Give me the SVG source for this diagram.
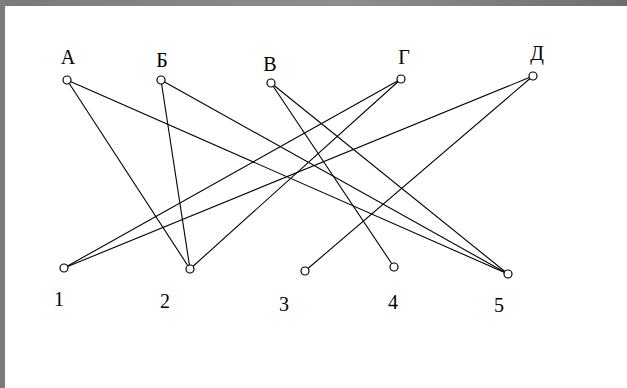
<svg xmlns="http://www.w3.org/2000/svg" width="627" height="388" viewBox="0 0 627 388">
<style>
.n{fill:#fff;stroke:#000;stroke-width:1.2}
.e{stroke:#000;stroke-width:1.1;fill:none}
.t{font-family:"Liberation Serif","DejaVu Serif",serif;font-size:20px;fill:#000;text-anchor:middle}
</style>
<defs>
<linearGradient id="g" x1="0" y1="0" x2="1" y2="0">
<stop offset="0" stop-color="#7a7a7a"/><stop offset="0.55" stop-color="#8e8e8e"/><stop offset="1" stop-color="#6e6e6e"/>
</linearGradient>
</defs>
<rect width="627" height="388" fill="#fff"/>
<rect x="0" y="0" width="627" height="6" fill="url(#g)"/>
<rect x="0" y="0" width="5" height="388" fill="#7c7c7c"/>
<g id="connectors">
<line class="e" x1="67" y1="80" x2="190" y2="269"/>
<line class="e" x1="67" y1="80" x2="508" y2="274"/>
<line class="e" x1="161" y1="80" x2="190" y2="269"/>
<line class="e" x1="161" y1="80" x2="508" y2="274"/>
<line class="e" x1="271" y1="83" x2="394" y2="267"/>
<line class="e" x1="271" y1="83" x2="508" y2="274"/>
<line class="e" x1="401" y1="79" x2="64" y2="268"/>
<line class="e" x1="401" y1="79" x2="190" y2="269"/>
<line class="e" x1="533" y1="76" x2="64" y2="268"/>
<line class="e" x1="533" y1="76" x2="305" y2="271"/>
</g>
<g id="nA"><circle class="n" cx="67" cy="80" r="4"/><text class="t" x="68" y="64">А</text></g>
<g id="nB"><circle class="n" cx="161" cy="80" r="4"/><text class="t" x="162" y="67">Б</text></g>
<g id="nV"><circle class="n" cx="271" cy="83" r="4"/><text class="t" x="270" y="71">В</text></g>
<g id="nG"><circle class="n" cx="401" cy="79" r="4"/><text class="t" x="404" y="64">Г</text></g>
<g id="nD"><circle class="n" cx="533" cy="76" r="4"/><text class="t" x="537" y="60">Д</text></g>
<g id="n1"><circle class="n" cx="64" cy="268" r="4"/><text class="t" x="59" y="306">1</text></g>
<g id="n2"><circle class="n" cx="190" cy="269" r="4"/><text class="t" x="165" y="308">2</text></g>
<g id="n3"><circle class="n" cx="305" cy="271" r="4"/><text class="t" x="284" y="311">3</text></g>
<g id="n4"><circle class="n" cx="394" cy="267" r="4"/><text class="t" x="393" y="309">4</text></g>
<g id="n5"><circle class="n" cx="508" cy="274" r="4"/><text class="t" x="499" y="312">5</text></g>
</svg>
